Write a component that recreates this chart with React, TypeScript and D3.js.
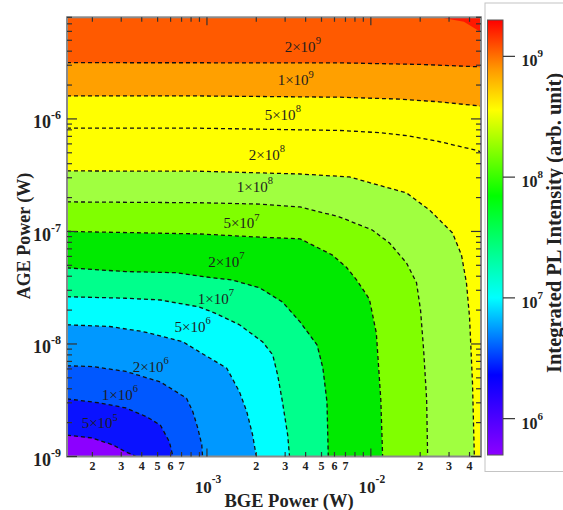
import React from "react";
import * as d3 from "d3";

// contour levels (arb. unit) and the fill of the band that starts at each level
const levels = [5e5, 1e6, 2e6, 5e6, 1e7, 2e7, 5e7, 1e8, 2e8, 5e8, 1e9, 2e9];
const bandColors = ["#0a12ff", "#0058ff", "#0098ff", "#00ffff", "#00ff8c", "#00ea00", "#80ff00", "#a0ff40", "#ffff00", "#ffff00", "#ffa000", "#ff5a00"];
const lowColor = "#8c00ff";
const topColor = "#ff1800";

// contour lines: [BGE power (W), AGE power (W)]
const c5e5 = [[1.4e-4, 1.55e-9], [2.0e-4, 1.46e-9], [2.66e-4, 1.27e-9], [3.2e-4, 1.1e-9], [3.7e-4, 1e-9]];
const c1e6 = [[1.4e-4, 3.25e-9], [2.2e-4, 3.0e-9], [3.2e-4, 2.7e-9], [4.3e-4, 2.25e-9], [5.2e-4, 1.9e-9], [5.9e-4, 1.35e-9], [6.2e-4, 1e-9]];
const c2e6 = [[1.4e-4, 6.4e-9], [2.0e-4, 6.3e-9], [3.2e-4, 5.7e-9], [5.2e-4, 4.6e-9], [7.5e-4, 3.3e-9], [8.2e-4, 2.5e-9], [8.8e-4, 1.78e-9], [9.3e-4, 1.27e-9], [9.4e-4, 1e-9]];
const c5e6 = [[1.4e-4, 1.48e-8], [2.55e-4, 1.43e-8], [4.05e-4, 1.29e-8], [7.1e-4, 1.05e-8], [9.0e-4, 8.5e-9], [1.04e-3, 7.5e-9], [1.32e-3, 6.1e-9], [1.58e-3, 3.75e-9], [1.75e-3, 2.5e-9], [1.9e-3, 1.55e-9], [2.0e-3, 1e-9]];
const c1e7 = [[1.4e-4, 2.63e-8], [3.2e-4, 2.55e-8], [5.2e-4, 2.46e-8], [9.0e-4, 2.13e-8], [1.11e-3, 1.89e-8], [1.58e-3, 1.48e-8], [2.19e-3, 1.04e-8], [2.52e-3, 8.0e-9], [2.7e-3, 5.3e-9], [2.89e-3, 3.05e-9], [3.11e-3, 1.55e-9], [3.19e-3, 1e-9]];
const c2e7 = [[1.4e-4, 4.75e-8], [3.2e-4, 4.4e-8], [6.5e-4, 4.3e-8], [1.04e-3, 3.9e-8], [1.43e-3, 3.7e-8], [2.1e-3, 3.15e-8], [2.9e-3, 2.35e-8], [3.7e-3, 1.57e-8], [4.7e-3, 9.8e-9], [5.1e-3, 6.1e-9], [5.4e-3, 3.05e-9], [5.5e-3, 1e-9]];
const c5e7 = [[1.4e-4, 1.0e-7], [9.0e-4, 9.5e-8], [2.1e-3, 8.9e-8], [3.7e-3, 8.6e-8], [5.8e-3, 6.2e-8], [7.1e-3, 4.8e-8], [8.2e-3, 3.7e-8], [9.8e-3, 2.5e-8], [1.08e-2, 1.25e-8], [1.15e-2, 3.2e-9], [1.18e-2, 1e-9]];
const c1e8 = [[1.4e-4, 1.83e-7], [9.0e-4, 1.8e-7], [2.1e-3, 1.75e-7], [3.7e-3, 1.65e-7], [6.4e-3, 1.35e-7], [1.02e-2, 1.03e-7], [1.3e-2, 7.9e-8], [1.65e-2, 5.25e-8], [1.9e-2, 3.5e-8], [2.01e-2, 2.0e-8], [2.1e-2, 8.8e-9], [2.19e-2, 3.2e-9], [2.22e-2, 1e-9]];
const c2e8 = [[1.4e-4, 3.45e-7], [9.0e-4, 3.43e-7], [3.7e-3, 3.24e-7], [7.4e-3, 3.05e-7], [1.65e-2, 2.2e-7], [2.28e-2, 1.55e-7], [3.15e-2, 9.7e-8], [3.57e-2, 6.2e-8], [3.83e-2, 3.5e-8], [4.0e-2, 1.74e-8], [4.17e-2, 4.5e-9], [4.28e-2, 1e-9]];
const c5e8 = [[1.4e-4, 8.3e-7], [9.0e-4, 8.27e-7], [6.4e-3, 7.9e-7], [1.13e-2, 7.55e-7], [1.72e-2, 7.05e-7], [2.6e-2, 6.3e-7], [4.3e-2, 5.3e-7], [4.7e-2, 5.1e-7]];
const c1e9 = [[1.4e-4, 1.6e-6], [9.0e-4, 1.6e-6], [6.4e-3, 1.56e-6], [1.5e-2, 1.5e-6], [2.6e-2, 1.42e-6], [4.7e-2, 1.3e-6]];
const c2e9 = [[1.4e-4, 3.16e-6], [6.4e-3, 3.15e-6], [2.0e-2, 3.05e-6], [4.7e-2, 2.9e-6]];
const contours = [c5e5, c1e6, c2e6, c5e6, c1e7, c2e7, c5e7, c1e8, c2e8, c5e8, c1e9, c2e9];
// unlabelled red patch in the top right corner
const topCorner = [[2.6e-2, 8e-6], [3.7e-2, 7.3e-6], [4.7e-2, 5.9e-6]];

// where each contour label starts (left end, baseline)
const labelPos = [[1.72e-4, 1.79e-9], [2.28e-4, 3.18e-9], [3.52e-4, 5.67e-9], [6.35e-4, 1.29e-8], [8.78e-4, 2.27e-8], [1.02e-3, 4.87e-8], [1.26e-3, 1.07e-7], [1.52e-3, 2.26e-7], [1.8e-3, 4.32e-7], [2.25e-3, 9.8e-7], [2.7e-3, 2.0e-6], [2.98e-3, 3.96e-6]];

// colour bar
const cbarValues = [5e5, 2.3e6, 1e7, 2.2e7, 7e7, 3.6e8, 7.8e8, 2e9];
const cbarColors = ["#8c00ff", "#0000ff", "#00ffff", "#00ff99", "#00ff00", "#ffff00", "#ff9900", "#ff0000"];
const cbarTicks = [1e6, 1e7, 1e8, 1e9];

const xDomain = [1.4e-4, 4.7e-2];
const yDomain = [1e-9, 8e-6];
const xMajor = [1e-3, 1e-2];
const yMajor = [1e-9, 1e-8, 1e-7, 1e-6];
const xMinorLabelDigits = [2, 3, 4, 5, 6, 7];

const L = 67, T = 17.3, R = 481, B = 456.5;
const serif = "'Liberation Serif', 'Times New Roman', serif";

const x = d3.scaleLog().domain(xDomain).range([L, R]);
const y = d3.scaleLog().domain(yDomain).range([B, T]);
const cb = d3.scaleLog().domain([5e5, 2e9]).range([455, 20]);
const line = d3.line<number[]>().x((d) => x(d[0])).y((d) => y(d[1]));

function region(pts: number[][]) {
  const p = pts.slice();
  const first = p[0], last = p[p.length - 1];
  if (last[1] <= yDomain[0]) p.push([xDomain[1], yDomain[0]]);
  p.push([xDomain[1], yDomain[1]]);
  if (first[0] <= xDomain[0]) p.push([xDomain[0], yDomain[1]]);
  return line(p) + "Z";
}

const expOf = (v: number) => Math.round(Math.log10(v));
const isMajor = (v: number) => Math.abs(Math.log10(v) - Math.round(Math.log10(v))) < 1e-6;

export default function App() {
  const xTicks = x.ticks();
  const yTicks = y.ticks();
  return (
    <svg width={563} height={510} style={{ position: "absolute", left: 0, top: 0, background: "#fff" }} fontFamily={serif}>
      <defs>
        <clipPath id="plot"><rect x={L} y={T} width={R - L} height={B - T} /></clipPath>
        <linearGradient id="cbar" x1="0" y1="1" x2="0" y2="0">
          {cbarValues.map((v, i) => (
            <stop key={i} offset={(455 - cb(v)) / 435} stopColor={cbarColors[i]} />
          ))}
        </linearGradient>
      </defs>

      <g clipPath="url(#plot)">
        <rect x={L} y={T} width={R - L} height={B - T} fill={lowColor} />
        {contours.map((c, i) => (
          <path key={i} d={region(c)} fill={bandColors[i]} stroke={bandColors[i]} strokeWidth={0.5} />
        ))}
        <path d={region(topCorner)} fill={topColor} />
        {contours.map((c, i) => (
          <path key={"l" + i} d={line(c) || ""} fill="none" stroke="#111" strokeWidth={1.3} strokeDasharray="4 3" />
        ))}
        {levels.map((v, i) => {
          const e = Math.floor(Math.log10(v) + 1e-9);
          const m = Math.round(v / Math.pow(10, e));
          return (
            <text key={"t" + i} x={x(labelPos[i][0])} y={y(labelPos[i][1])} fontSize={15} fill="#1e1e1e">
              {m}×10<tspan dy={-7.5} fontSize={10.5}>{e}</tspan>
            </text>
          );
        })}
      </g>

      {/* frame */}
      <rect x={L} y={T} width={R - L} height={B - T} fill="none" stroke="#8a8a8a" strokeWidth={2} />

      {/* x ticks, bottom and top */}
      {xTicks.map((t, i) => {
        const len = isMajor(t) ? 8 : 4.5;
        return (
          <g key={"xt" + i} stroke="#333" strokeWidth={1.2}>
            <line x1={x(t)} x2={x(t)} y1={B} y2={B - len} />
            <line x1={x(t)} x2={x(t)} y1={T} y2={T + len} />
          </g>
        );
      })}
      {xTicks.filter((t) => !isMajor(t)).map((t, i) => {
        const digit = Math.round(t / Math.pow(10, Math.floor(Math.log10(t) + 1e-9)));
        if (!xMinorLabelDigits.includes(digit)) return null;
        return (
          <text key={"xl" + i} x={x(t)} y={470} textAnchor="middle" fontSize={12} fontWeight="bold" fill="#222">{digit}</text>
        );
      })}
      {xMajor.map((t, i) => (
        <text key={"xm" + i} x={x(t) + 1} y={493} textAnchor="middle" fontSize={17} fontWeight="bold" fill="#222">
          10<tspan dy={-10} fontSize={11.5}>{expOf(t)}</tspan>
        </text>
      ))}

      {/* y ticks, left and right */}
      {yTicks.map((t, i) => {
        const len = isMajor(t) ? 10 : 5;
        return (
          <g key={"yt" + i} stroke="#333" strokeWidth={1.2}>
            <line x1={L} x2={L + len} y1={y(t)} y2={y(t)} />
            <line x1={R} x2={R - len} y1={y(t)} y2={y(t)} />
          </g>
        );
      })}
      {yMajor.map((t, i) => (
        <text key={"ym" + i} x={61} y={y(t) + 9.5} textAnchor="end" fontSize={18} fontWeight="bold" fill="#222">
          10<tspan dy={-9} fontSize={12}>{expOf(t)}</tspan>
        </text>
      ))}

      <text x={289} y={507} textAnchor="middle" fontSize={18.5} fontWeight="bold" fill="#222">BGE Power (W)</text>
      <text transform="translate(30,236) rotate(-90)" textAnchor="middle" fontSize={18} fontWeight="bold" fill="#222">AGE Power (W)</text>

      {/* colour bar */}
      <rect x={485} y={3} width={120} height={468.5} fill="none" stroke="#c4c4c4" strokeWidth={1} />
      <rect x={487.5} y={20} width={15.5} height={435} fill="url(#cbar)" stroke="#555" strokeWidth={1} />
      {cbarTicks.map((t, i) => (
        <g key={"cb" + i}>
          <line x1={503} x2={515} y1={cb(t)} y2={cb(t)} stroke="#333" strokeWidth={1.2} />
          <text x={521.5} y={cb(t) + 10} fontSize={16} fontWeight="bold" fill="#222">
            10<tspan dy={-9} fontSize={11}>{expOf(t)}</tspan>
          </text>
        </g>
      ))}
      <text transform="translate(560.5,223) rotate(-90)" textAnchor="middle" fontSize={20.5} fontWeight="bold" fill="#222">Integrated PL Intensity (arb. unit)</text>
    </svg>
  );
}
